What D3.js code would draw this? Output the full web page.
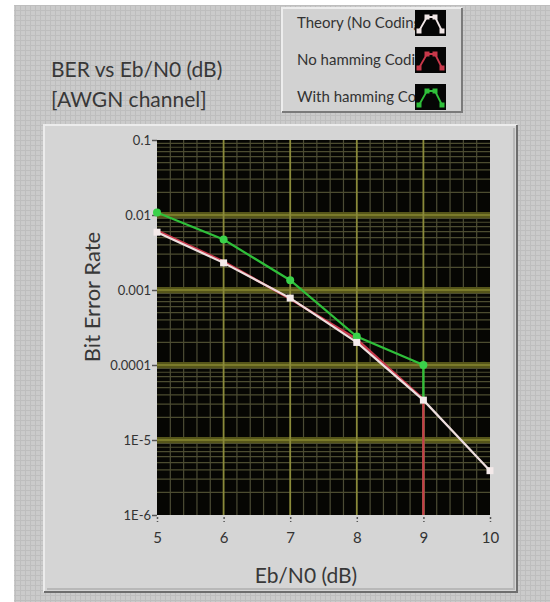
<!DOCTYPE html>
<html><head><meta charset="utf-8">
<script src="https://cdn.jsdelivr.net/npm/d3@7"></script>
<style>body{margin:0;background:#fff}svg{display:block}</style>
</head><body><svg id="c" width="550" height="602"></svg>
<script>
const ebn0 = [5, 6, 7, 8, 9, 10];
const theory = [0.0059, 0.0023, 0.00078, 0.0002, 3.4e-5, 3.9e-6];
const noHamming = [0.0062, 0.0024, 0.00076, 0.00022, 3.5e-5, 0];
const withHamming = [0.0108, 0.0047, 0.00135, 0.00024, 0.0001, 0];
const seriesNames = ["Theory (No Coding)", "No hamming Coding", "With hamming Coding"];
const yTicks = [0.1, 0.01, 0.001, 0.0001, 1e-5, 1e-6];
const yTickLabels = ["0.1", "0.01", "0.001", "0.0001", "1E-5", "1E-6"];
const xTicks = [5, 6, 7, 8, 9, 10];

const svg = d3.select("#c");
const font = "Lato, 'Open Sans', sans-serif";
const defs = svg.append("defs");
const pat = defs.append("pattern").attr("id","bg").attr("width",5).attr("height",5).attr("patternUnits","userSpaceOnUse");
pat.append("rect").attr("width",5).attr("height",5).attr("fill","#cbcbcb");
pat.append("path").attr("d","M0 0.5H5M0.5 0V5").attr("stroke","#bebebe").attr("stroke-width",1);

// outer panel
svg.append("rect").attr("x",14).attr("y",5).attr("width",536).attr("height",597).attr("fill","url(#bg)");

// graph frame
svg.append("rect").attr("x",43).attr("y",124).attr("width",475).attr("height",469).attr("fill","#d5d5d5");
svg.append("path").attr("d","M44 592V125H517").attr("fill","none").attr("stroke","#ececec").attr("stroke-width",2);
svg.append("path").attr("d","M44 592H517V125").attr("fill","none").attr("stroke","#6e6e6e").attr("stroke-width",2);
svg.append("path").attr("d","M47 589H514V128").attr("fill","none").attr("stroke","#b8b8b8").attr("stroke-width",2);

// title
svg.append("text").attr("x",51).attr("y",77).attr("font-family",font).attr("font-size",21).attr("fill","#383838").text("BER vs Eb/N0 (dB)");
svg.append("text").attr("x",51).attr("y",107).attr("font-family",font).attr("font-size",21).attr("fill","#383838").text("[AWGN channel]");

const x = d3.scaleLinear().domain([5,10]).range([157,490]);
const y = d3.scaleLog().domain([1e-6,0.1]).range([515,140]);
const [x0,x1] = x.range(), [y0,y1] = [y.range()[1], y.range()[0]];

// plot bg
svg.append("rect").attr("x",x0).attr("y",y0).attr("width",x1-x0).attr("height",y1-y0).attr("fill","#060603");

const g = svg.append("g");
const xMinor = d3.range(5,10.001,0.2).filter(v=>Math.abs(v-Math.round(v))>1e-6);
g.selectAll(".vm").data(xMinor).join("line").attr("x1",d=>x(d)).attr("x2",d=>x(d)).attr("y1",y0).attr("y2",y1).attr("stroke","#4c4c35").attr("stroke-width",1.2);
const yMinor = [];
[1e-6,1e-5,1e-4,1e-3,1e-2].forEach(b=>{for(let k=2;k<=9;k++) yMinor.push(b*k);});
g.selectAll(".hm").data(yMinor).join("line").attr("x1",x0).attr("x2",x1).attr("y1",d=>y(d)).attr("y2",d=>y(d)).attr("stroke","#4c4c30").attr("stroke-width",1.2);
g.selectAll(".hM").data(yTicks.slice(1,5)).join("line").attr("x1",x0).attr("x2",x1).attr("y1",d=>y(d)).attr("y2",d=>y(d)).attr("stroke","#55551a").attr("stroke-width",6);
g.selectAll(".hM2").data(yTicks.slice(1,5)).join("line").attr("x1",x0).attr("x2",x1).attr("y1",d=>y(d)).attr("y2",d=>y(d)).attr("stroke","#7a7a2a").attr("stroke-width",2);
g.selectAll(".vM").data(xTicks.slice(1,5)).join("line").attr("x1",d=>x(d)).attr("x2",d=>x(d)).attr("y1",y0).attr("y2",y1).attr("stroke","#8a8a3a").attr("stroke-width",1.8);

// axes
const ya = svg.append("g").attr("transform",`translate(${x0},0)`).call(d3.axisLeft(y).tickValues(yTicks).tickFormat((d,i)=>yTickLabels[i]).tickSize(5).tickSizeOuter(0));
ya.select(".domain").remove();
ya.selectAll(".tick line").attr("stroke","#555").attr("stroke-width",1.5);
ya.selectAll("text").attr("font-family",font).attr("font-size",13).attr("fill","#333").attr("x",-6);
const xa = svg.append("g").attr("transform",`translate(0,${y1})`).call(d3.axisBottom(x).tickValues(xTicks).tickFormat(d3.format("d")).tickSize(7).tickSizeOuter(0));
xa.select(".domain").remove();
xa.selectAll(".tick line").attr("stroke","#555").attr("stroke-width",1.5).attr("stroke-dasharray","2,2").attr("y1",2);
xa.selectAll("text").attr("font-family",font).attr("font-size",15).attr("fill","#333").attr("y",17);

svg.append("text").attr("transform",`translate(100,297) rotate(-90)`).attr("text-anchor","middle").attr("font-family",font).attr("font-size",22).attr("fill","#383838").text("Bit Error Rate");
svg.append("text").attr("x",306).attr("y",583).attr("text-anchor","middle").attr("font-family",font).attr("font-size",21).attr("fill","#383838").text("Eb/N0 (dB)");

function pts(vals){
  const out=[];
  vals.forEach((v,i)=>{
    if(v>0) out.push([x(ebn0[i]),y(v)]);
    else if(i>0) out.push([x(ebn0[i-1]),y1]);
  });
  return out;
}
const line = d3.line();
const series = [
  {vals:withHamming, color:"#2fbf3a", w:2.2, mk:"circle", mc:"#3ad24a"},
  {vals:noHamming, color:"#c8384a", w:2.4, mk:"none", mc:"#c8384a"},
  {vals:theory, color:"#eedede", w:2.2, mk:"square", mc:"#f4eaea"}
];
series.forEach(s=>{
  svg.append("path").attr("d",line(pts(s.vals))).attr("fill","none").attr("stroke",s.color).attr("stroke-width",s.w);
});
series.forEach(s=>{
  const p = s.vals.map((v,i)=>[ebn0[i],v]).filter(d=>d[1]>0);
  if(s.mk==="circle") svg.selectAll(null).data(p).join("circle").attr("cx",d=>x(d[0])).attr("cy",d=>y(d[1])).attr("r",4).attr("fill",s.mc);
  if(s.mk==="square") svg.selectAll(null).data(p).join("rect").attr("x",d=>x(d[0])-3.5).attr("y",d=>y(d[1])-3.5).attr("width",7).attr("height",7).attr("fill",s.mc);
});

// legend
svg.append("rect").attr("x",281).attr("y",7).attr("width",182).attr("height",106).attr("fill","#d2d2d2");
svg.append("path").attr("d","M282 112V8H462").attr("fill","none").attr("stroke","#ededed").attr("stroke-width",2);
svg.append("path").attr("d","M282 112H462V8").attr("fill","none").attr("stroke","#7a7a7a").attr("stroke-width",2);
defs.append("clipPath").attr("id","lc").append("rect").attr("x",282).attr("y",0).attr("width",133).attr("height",120);
const legColors = ["#f0e6e6","#c8384a","#2fbf3a"];
const legY = [23, 60, 97];
seriesNames.forEach((n,i)=>{
  svg.append("text").attr("x",297).attr("y",legY[i]+5).attr("clip-path","url(#lc)").attr("font-family",font).attr("font-size",15).attr("fill","#333").text(n);
  const sx=415, sy=legY[i]-13;
  svg.append("rect").attr("x",sx).attr("y",sy).attr("width",31).attr("height",26).attr("fill","#050505");
  const lp=[[sx+4,sy+21],[sx+12,sy+7],[sx+20,sy+7],[sx+27,sy+21]];
  svg.append("path").attr("d",d3.line()(lp)).attr("fill","none").attr("stroke",legColors[i]).attr("stroke-width",1.8);
  svg.selectAll(null).data(lp).join("rect").attr("x",d=>d[0]-2.5).attr("y",d=>d[1]-2.5).attr("width",5).attr("height",5).attr("fill",legColors[i]);
});
</script></body></html>
